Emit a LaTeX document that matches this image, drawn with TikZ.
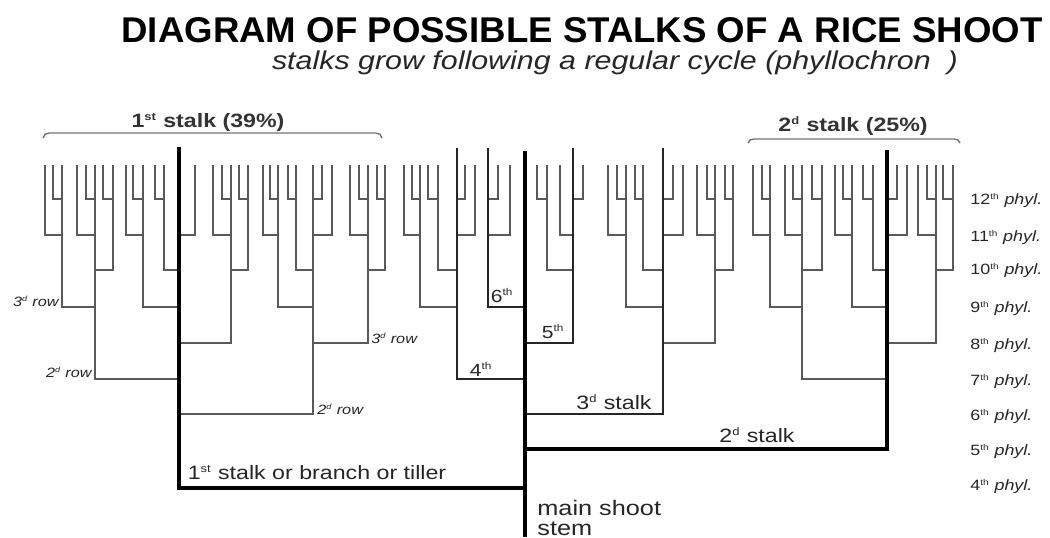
\documentclass[tikz,border=0pt]{standalone}
\usepackage{fontspec}
\setmainfont{Liberation Sans}[FakeStretch=1.2]
\newfontfamily\plainsans{Liberation Sans}
\usetikzlibrary{positioning}

\def\lev{{488,449,414,379,343,307,270,235,199}}
\newcommand{\ord}[1]{\textsuperscript{\scalebox{0.8}{#1}}}

\begin{document}
\begin{tikzpicture}[x=0.02cm, y=-0.02cm,
    twig/.style={draw=black!65, line width=0.85pt},
    tiller/.style={draw=black!85, line width=1.3pt},
    bigtiller/.style={draw=black, line width=1.8pt},
    mainstem/.style={draw=black, line width=2.2pt},
    brace/.style={draw=black!55, line width=0.8pt},
    lbl/.style={font=\fontsize{11}{13}\selectfont, text=black!85, inner sep=0pt, anchor=base},
    toplbl/.style={font=\fontsize{11}{13}\selectfont\bfseries, text=black!80, inner sep=0pt, anchor=base},
    nth/.style={font=\fontsize{10}{12}\selectfont, text=black!85, inner sep=0pt, anchor=base},
    rowlbl/.style={font=\fontsize{7.7}{9}\selectfont\itshape, text=black!85, inner sep=0pt},
    phyl/.style={font=\fontsize{8.5}{10}\selectfont, text=black!85, inner sep=0pt, anchor=base west}
]
\useasboundingbox (0,0) rectangle (1050,537);

\node[inner sep=0pt] (title) at (582,30) {\resizebox{18.42cm}{0.5cm}{\plainsans\bfseries DIAGRAM OF POSSIBLE STALKS OF A RICE SHOOT}};
\node[inner sep=0pt, text=black!85] (subtitle) at (615,63) {\resizebox*{13.72cm}{0.48cm}{\plainsans\itshape stalks grow following a regular cycle (phyllochron~~)}};

\draw[brace] (43,138) to[out=80,in=180] (49,133) -- (376,133) to[out=0,in=100] (382,138);
\draw[brace] (748,143) to[out=80,in=180] (754,139) -- (954,139) to[out=0,in=100] (960,143);
\node[toplbl] (lab1) at (208,127) {1\ord{st} stalk (39\%)};
\node[toplbl] (lab2) at (853,131) {2\ord{d} stalk (25\%)};

\foreach \x/\p/\px in {313/6/179, 95/7/179, 231/8/179, 143/9/179, 164/10/179, 195/11/179,
    62/9/95, 113/10/95, 77/11/95, 86/12/95, 45/11/62, 53/12/62, 103/12/113,
    126/11/143, 133/12/143, 155/12/164, 248/10/231, 213/11/231, 222/12/231, 239/12/248,
    368/8/313, 278/9/313, 296/10/313, 332/11/313, 322/12/313, 263/11/278, 270/12/278,
    288/12/296, 385/10/368, 350/11/368, 359/12/368, 377/12/385,
    420/9/457, 438/10/457, 475/11/457, 465/12/457, 404/11/420, 412/12/420, 428/12/438,
    510/11/488, 498/12/488,
    547/10/573, 560/11/573, 583/12/573, 537/12/547,
    715/8/663, 626/9/663, 643/10/663, 683/11/663, 673/12/663, 608/11/626, 617/12/626,
    635/12/643, 733/10/715, 697/11/715, 707/12/715, 725/12/733,
    802/7/887, 936/8/887, 852/9/887, 873/10/887, 907/11/887, 897/12/887,
    770/9/802, 822/10/802, 785/11/802, 793/12/802, 753/11/770, 762/12/770, 812/12/822,
    953/10/936, 918/11/936, 927/12/936, 943/12/953, 835/11/852, 843/12/852, 863/12/873}
  \draw[twig] (\x,165) |- (\px,{\lev[\p-4]});

\foreach \x/\p in {663/6, 457/7, 573/8, 488/9}
  \draw[tiller] (\x,148) |- (525,{\lev[\p-4]});
\draw[bigtiller] (179,147) |- (525,488);
\draw[bigtiller] (887,150) |- (525,449);
\draw[mainstem] (525,151) -- (525,537);

\node[lbl] (t1) at (317,479) {1\ord{st} stalk or branch or tiller};
\node[lbl] (t2) at (757,442) {2\ord{d} stalk};
\node[lbl] (t3) at (614,409) {3\ord{d} stalk};
\node[nth] (t4) at (481,376) {4\ord{th}};
\node[nth] (t5) at (553,338) {5\ord{th}};
\node[nth] (t6) at (502,302) {6\ord{th}};
\node[lbl, anchor=base west, align=left, font=\fontsize{12}{11.3}\selectfont] (main) at (537,535) {main shoot\\stem};

\node[rowlbl, anchor=east] (r3l) at (59,301) {3\ord{d} row};
\node[rowlbl, anchor=east] (r2l) at (92,372) {2\ord{d} row};
\node[rowlbl, anchor=west] (r2r) at (317,409) {2\ord{d} row};
\node[rowlbl, anchor=west] (r3r) at (371,338) {3\ord{d} row};

\foreach \n/\c in {12/199, 11/236, 10/269, 9/307, 8/344, 7/380, 6/415, 5/450, 4/485}
  \node[phyl] (ph\n) at (970,\c+5) {\n\ord{th} \textit{phyl.}};
\end{tikzpicture}
\end{document}
